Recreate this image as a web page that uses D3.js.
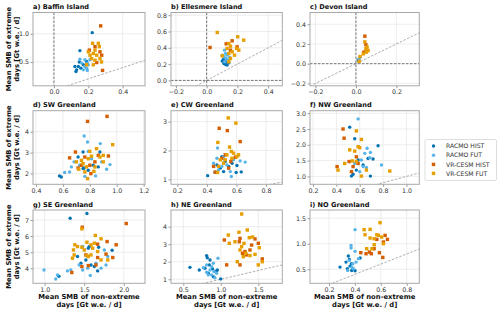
<!DOCTYPE html>
<html><head><meta charset="utf-8">
<script src="https://cdn.jsdelivr.net/npm/d3@7"></script>
<style>body{margin:0;background:#fff}svg{display:block;font-family:"DejaVu Sans",sans-serif}</style>
</head><body><svg id="c" width="500" height="313"></svg>
<script>
// ---------------- DATA ----------------
const seriesNames = ["RACMO HIST", "RACMO FUT", "VR-CESM HIST", "VR-CESM FUT"];
const seriesColors = ["#0173b2", "#56b4e9", "#d55e00", "#e69f00"];
const seriesShapes = ["circle", "circle", "square", "square"];

const baffinRH = [[0.223,1.02],[0.151,0.70],[0.122,0.42],[0.142,0.42],[0.132,0.36],[0.157,0.39],[0.171,0.45],[0.19,0.51],[0.128,0.33],[0.148,0.50]];
const baffinRF = [[0.151,0.55],[0.18,0.54],[0.194,0.48],[0.171,0.36],[0.19,0.39],[0.20,0.45],[0.161,0.48],[0.18,0.42],[0.194,0.35],[0.21,0.54]];
const baffinVH = [[0.272,1.14],[0.206,0.71],[0.278,0.62],[0.249,0.49],[0.283,0.35],[0.239,0.77],[0.268,0.68]];
const baffinVF = [[0.225,0.83],[0.258,0.83],[0.239,0.71],[0.21,0.62],[0.229,0.65],[0.249,0.62],[0.268,0.56],[0.219,0.56],[0.264,0.77],[0.239,0.53],[0.277,0.50],[0.19,0.45],[0.229,0.45],[0.20,0.68]];

const ellesRH = [[0.101,0.237],[0.112,0.208],[0.123,0.196],[0.133,0.188],[0.108,0.257],[0.144,0.216],[0.123,0.229]];
const ellesRF = [[0.116,0.371],[0.123,0.33],[0.112,0.29],[0.127,0.269],[0.133,0.31],[0.101,0.31],[0.138,0.249],[0.118,0.229],[0.15,0.282]];
const ellesVH = [[0.022,0.404],[0.127,0.449],[0.166,0.486],[0.155,0.371],[0.198,0.412]];
const ellesVF = [[0.069,0.588],[0.202,0.535],[0.241,0.494],[0.144,0.453],[0.155,0.42],[0.194,0.392],[0.209,0.371],[0.166,0.351],[0.144,0.33],[0.181,0.31],[0.101,0.302],[0.144,0.229],[0.155,0.269],[0.133,0.392]];

const devonRH = [[0.011,0.038]];
const devonRF = [[0.016,0.048],[0.02,0.066]];
const devonVH = [[0.044,0.279],[0.049,0.193],[0.039,0.117],[0.052,0.134]];
const devonVF = [[0.044,0.221],[0.055,0.169],[0.06,0.134],[0.049,0.152],[0.036,0.10],[0.02,0.072],[0.016,0.024],[0.052,0.117]];

const swRH = [[0.575,1.89],[0.588,1.84],[0.75,3.03],[0.758,2.27],[0.75,2.24],[0.875,3.03],[0.788,2.16],[0.863,2.32],[0.713,2.79],[0.825,2.40]];
const swRF = [[0.758,3.79],[0.783,3.51],[0.878,3.43],[0.613,2.05],[0.663,2.32],[0.683,2.56],[0.763,1.87],[0.843,1.89],[0.95,2.43],[0.925,2.21],[0.788,3.06],[0.725,2.40],[0.888,2.56],[0.813,2.71],[0.65,2.08]];
const swVH = [[0.783,4.49],[0.928,4.73],[0.65,2.75],[0.693,3.03],[0.713,2.27],[0.808,2.00],[0.938,2.84],[0.838,2.56],[0.763,2.79],[0.738,2.40],[0.863,2.87],[0.80,2.40]];
const swVF = [[0.97,3.38],[0.783,1.76],[0.85,3.19],[0.80,3.06],[0.813,2.83],[0.875,2.79],[0.90,2.87],[0.738,2.63],[0.718,2.21],[0.775,2.32],[0.75,2.48],[0.838,2.32],[0.788,2.71],[0.90,2.56],[0.763,2.08],[0.83,2.11],[0.70,2.56]];

const cwRH = [[0.405,1.13],[0.456,1.25],[0.513,1.27],[0.598,1.24],[0.632,1.26],[0.603,1.48],[0.468,1.50],[0.524,1.62],[0.501,1.79],[0.49,1.39],[0.547,1.45],[0.57,1.56]];
const cwRF = [[0.472,2.09],[0.565,1.10],[0.659,1.60],[0.625,1.64],[0.468,1.73],[0.513,1.79],[0.535,1.50],[0.58,1.68],[0.479,1.33],[0.501,1.45],[0.445,1.56],[0.558,1.27]];
const cwVH = [[0.483,2.77],[0.538,2.69],[0.625,2.31],[0.445,1.45],[0.456,1.25],[0.592,1.77],[0.501,1.73],[0.562,1.62],[0.524,1.85],[0.547,1.39]];
const cwVF = [[0.544,3.13],[0.596,2.95],[0.474,2.28],[0.553,2.12],[0.565,1.97],[0.58,1.91],[0.603,1.79],[0.535,1.85],[0.49,1.68],[0.513,1.56],[0.479,1.45],[0.472,1.24],[0.524,1.68],[0.614,1.85],[0.569,1.73]];

const nwRH = [[0.514,2.56],[0.557,2.19],[0.757,1.97],[0.714,1.55],[0.529,1.01],[0.691,1.01],[0.543,1.07],[0.586,1.52],[0.671,1.57],[0.629,1.36],[0.571,1.20]];
const nwRF = [[0.586,2.82],[0.786,1.36],[0.663,1.89],[0.691,1.76],[0.643,1.73],[0.686,1.59],[0.629,1.31],[0.657,1.28],[0.60,1.15],[0.557,1.41],[0.614,1.52]];
const nwVH = [[0.457,2.50],[0.466,2.21],[0.406,1.31],[0.509,1.47],[0.529,1.15],[0.571,1.62],[0.543,1.31],[0.586,1.41]];
const nwVF = [[0.571,2.44],[0.614,2.17],[0.514,1.84],[0.586,1.94],[0.60,1.91],[0.557,1.80],[0.471,1.41],[0.414,1.20],[0.857,1.17],[0.657,1.20],[0.614,1.01],[0.571,1.47],[0.537,1.49]];

const seRH = [[1.322,7.11],[1.534,7.40],[1.18,3.51],[1.415,4.73],[1.458,4.32],[1.551,5.25],[1.682,5.31],[1.852,5.12],[1.669,3.84],[1.585,4.21],[1.521,4.52],[1.627,4.11],[1.564,5.35]];
const seRF = [[0.992,3.90],[1.14,3.34],[1.161,3.59],[1.288,3.84],[1.331,3.90],[1.479,3.90],[1.576,3.55],[1.712,4.01],[1.775,4.21],[1.797,4.73],[1.754,5.14],[1.479,5.35],[1.648,4.32],[1.543,4.01],[1.436,4.21]];
const seVH = [[1.475,6.55],[2.03,6.78],[1.343,3.74],[1.903,5.46],[1.788,5.66],[1.86,4.67],[1.775,4.88],[1.669,4.67],[1.521,4.83],[1.669,5.50],[1.47,4.11],[1.648,4.21],[1.551,4.17]];
const seVF = [[1.47,6.45],[1.64,6.04],[1.712,5.83],[1.364,5.14],[1.381,5.46],[1.373,4.83],[1.352,4.63],[1.47,5.31],[1.534,5.62],[1.585,5.46],[1.627,5.56],[1.534,4.79],[1.585,4.83],[1.669,5.04],[1.712,4.52],[1.797,4.52],[1.606,5.25],[1.50,5.14],[1.551,4.73],[1.415,5.35]];

const neRH = [[0.589,1.68],[0.713,1.53],[0.811,2.35],[0.82,2.23],[0.856,2.10],[0.789,1.63],[0.847,1.82],[0.891,1.59],[0.944,1.47],[0.998,1.02],[0.953,1.53],[0.90,1.15],[0.833,1.34]];
const neRF = [[0.962,2.20],[0.767,1.66],[0.811,1.40],[0.878,1.25],[0.90,1.91],[0.856,1.53],[0.922,1.09],[0.944,1.34],[0.811,1.82],[0.878,1.72],[0.833,1.25],[0.909,1.44]];
const neVH = [[1.047,3.24],[1.078,1.82],[1.256,3.33],[1.256,1.82],[1.456,3.30],[1.50,3.05],[1.553,2.16],[1.389,2.67],[1.411,2.95],[1.322,2.58],[1.289,2.48],[1.247,3.14],[1.344,2.39]];
const neVF = [[1.278,4.72],[1.353,3.81],[1.242,3.68],[1.10,3.52],[1.113,3.05],[1.189,3.14],[1.309,3.05],[1.38,3.37],[1.424,3.41],[1.278,2.86],[1.256,2.67],[1.333,2.48],[1.389,2.35],[1.456,2.42],[1.513,2.80],[1.50,1.82],[1.553,2.00],[1.22,2.00],[1.30,2.29]];

const noRH = [[0.285,0.542],[0.349,0.758],[0.357,0.693],[0.373,0.608],[0.342,0.51],[0.375,0.477],[0.401,0.47],[0.44,0.719],[0.331,0.64],[0.362,0.562]];
const noRF = [[0.401,1.275],[0.37,0.967],[0.37,0.915],[0.401,0.85],[0.427,0.706],[0.357,0.673],[0.383,0.608],[0.375,0.542],[0.344,0.477],[0.388,0.51],[0.409,0.64]];
const noVH = [[0.445,0.824],[0.486,0.804],[0.512,0.837],[0.548,0.902],[0.589,0.824],[0.615,0.732],[0.62,1.033],[0.651,1.085],[0.633,1.163],[0.569,1.085],[0.527,0.804]];
const noVF = [[0.471,1.275],[0.517,1.281],[0.594,1.412],[0.478,1.176],[0.517,1.111],[0.548,1.098],[0.581,1.163],[0.607,1.131],[0.491,0.902],[0.531,0.902],[0.549,0.98],[0.62,1.0],[0.569,1.176]];

const titles = ["a) Baffin Island","b) Ellesmere Island","c) Devon Island","d) SW Greenland","e) CW Greenland","f) NW Greenland","g) SE Greenland","h) NE Greenland","i) NO Greenland"];
const xDomains = [[-0.122,0.53],[-0.232,0.492],[-0.227,0.313],[0.378,1.21],[0.157,0.91],[0.174,1.11],[0.853,2.267],[0.336,1.82],[0.053,0.897]];
const yDomains = [[0.077,1.377],[-0.066,0.833],[-0.224,0.519],[1.49,5.0],[0.83,3.38],[0.75,3.08],[3.07,7.62],[0.77,4.95],[0.225,1.66]];
const xTickVals = [[0,0.2,0.4],[-0.2,0,0.2,0.4],[-0.2,0,0.2],[0.4,0.6,0.8,1.0,1.2],[0.2,0.4,0.6,0.8],[0.2,0.4,0.6,0.8,1.0],[1.0,1.5,2.0],[0.5,1.0,1.5],[0.2,0.4,0.6,0.8]];
const yTickVals = [[0.5,1.0],[0,0.2,0.4,0.6,0.8],[-0.2,0,0.2,0.4],[2,3,4],[1,2,3],[1.0,1.5,2.0,2.5,3.0],[4,5,6,7],[1,2,3,4],[0.5,1.0,1.5]];
const yTickFormats = [".1f",".1f",".1f","d","d",".1f","d","d",".1f"];
const panelSeries = [
  [baffinRH,baffinRF,baffinVH,baffinVF],[ellesRH,ellesRF,ellesVH,ellesVF],[devonRH,devonRF,devonVH,devonVF],
  [swRH,swRF,swVH,swVF],[cwRH,cwRF,cwVH,cwVF],[nwRH,nwRF,nwVH,nwVF],
  [seRH,seRF,seVH,seVF],[neRH,neRF,neVH,neVF],[noRH,noRF,noVH,noVF]];
const yLabelLines = ["Mean SMB of extreme","days [Gt w.e. / d]"];
const xLabelLines = ["Mean SMB of non-extreme","days [Gt w.e. / d]"];

// ---------------- LAYOUT ----------------
const cols = [[33,145],[171,282.3],[310,419.3]];
const rows = [[12.5,85.8],[110.7,184.3],[210,283.3]];
const svg = d3.select("#c");
const defs = svg.append("defs");

panelSeries.forEach((series, i) => {
  const c = cols[i % 3], r = rows[Math.floor(i / 3)];
  const x = d3.scaleLinear().domain(xDomains[i]).range(c);
  const y = d3.scaleLinear().domain(yDomains[i]).range([r[1], r[0]]);
  const g = svg.append("g");
  const cid = "clip" + i;
  defs.append("clipPath").attr("id", cid).append("rect")
    .attr("x", c[0]).attr("y", r[0]).attr("width", c[1]-c[0]).attr("height", r[1]-r[0]);

  // grid
  g.append("g").selectAll("line").data(xTickVals[i]).join("line")
    .attr("x1", d => x(d)).attr("x2", d => x(d)).attr("y1", r[0]).attr("y2", r[1])
    .attr("stroke", "#e8e8e8").attr("stroke-width", 0.8);
  g.append("g").selectAll("line").data(yTickVals[i]).join("line")
    .attr("y1", d => y(d)).attr("y2", d => y(d)).attr("x1", c[0]).attr("x2", c[1])
    .attr("stroke", "#e8e8e8").attr("stroke-width", 0.8);

  // axes
  const xa = g.append("g").attr("transform", `translate(0,${r[1]})`)
    .call(d3.axisBottom(x).tickValues(xTickVals[i]).tickFormat(d3.format(".1f")).tickSize(2.5).tickPadding(1.5));
  const ya = g.append("g").attr("transform", `translate(${c[0]},0)`)
    .call(d3.axisLeft(y).tickValues(yTickVals[i]).tickFormat(d3.format(yTickFormats[i])).tickSize(2.5).tickPadding(1.5));
  [xa, ya].forEach(a => {
    a.select(".domain").remove();
    a.selectAll("line").attr("stroke", "#555").attr("stroke-width", 0.6);
    a.selectAll("text").attr("font-size", 6.3).attr("fill", "#333").attr("font-family", "DejaVu Sans");
  });

  const inner = g.append("g").attr("clip-path", `url(#${cid})`);
  // 1:1 line
  const lo = Math.min(xDomains[i][0], yDomains[i][0]), hi = Math.max(xDomains[i][1], yDomains[i][1]);
  inner.append("line").attr("x1", x(lo)).attr("y1", y(lo)).attr("x2", x(hi)).attr("y2", y(hi))
    .attr("stroke", "#999").attr("stroke-width", 0.8).attr("stroke-dasharray", "2.5,1.5");
  // zero lines
  if (xDomains[i][0] < 0 && xDomains[i][1] > 0)
    inner.append("line").attr("x1", x(0)).attr("x2", x(0)).attr("y1", r[0]).attr("y2", r[1])
      .attr("stroke", "#555").attr("stroke-width", 0.8).attr("stroke-dasharray", "2.5,1.5");
  if (yDomains[i][0] < 0 && yDomains[i][1] > 0)
    inner.append("line").attr("y1", y(0)).attr("y2", y(0)).attr("x1", c[0]).attr("x2", c[1])
      .attr("stroke", "#555").attr("stroke-width", 0.8).attr("stroke-dasharray", "2.5,1.5");

  // points
  series.forEach((pts, s) => {
    const sg = inner.append("g").attr("fill", seriesColors[s]);
    if (seriesShapes[s] === "circle") {
      sg.selectAll("circle").data(pts).join("circle")
        .attr("cx", d => x(d[0])).attr("cy", d => y(d[1])).attr("r", 1.7);
    } else {
      const sz = 3.4;
      sg.selectAll("rect").data(pts).join("rect")
        .attr("x", d => x(d[0]) - sz/2).attr("y", d => y(d[1]) - sz/2).attr("width", sz).attr("height", sz);
    }
  });

  // frame
  g.append("rect").attr("x", c[0]).attr("y", r[0]).attr("width", c[1]-c[0]).attr("height", r[1]-r[0])
    .attr("fill", "none").attr("stroke", "#a8a8a8").attr("stroke-width", 1);

  // title
  g.append("text").attr("x", c[0]).attr("y", r[0] - 3.5).text(titles[i])
    .attr("font-size", 6.6).attr("font-weight", "bold").attr("fill", "#111");
});

// y labels for each row
rows.forEach(r => {
  const cy = (r[0] + r[1]) / 2;
  const t = svg.append("text").attr("transform", `translate(11,${cy}) rotate(-90)`)
    .attr("text-anchor", "middle").attr("font-size", 6.8).attr("font-weight", "bold").attr("fill", "#111");
  t.append("tspan").attr("x", 0).attr("y", 0).text(yLabelLines[0]);
  t.append("tspan").attr("x", 0).attr("y", 8.3).text(yLabelLines[1]);
});
// x labels for bottom row
cols.forEach(c => {
  const cx = (c[0] + c[1]) / 2;
  const t = svg.append("text").attr("text-anchor", "middle").attr("font-size", 6.8)
    .attr("font-weight", "bold").attr("fill", "#111");
  t.append("tspan").attr("x", cx).attr("y", 298.5).text(xLabelLines[0]);
  t.append("tspan").attr("x", cx).attr("y", 306.8).text(xLabelLines[1]);
});

// legend
const lg = svg.append("g");
lg.append("rect").attr("x", 425).attr("y", 139.5).attr("width", 71.5).attr("height", 41).attr("rx", 1.5)
  .attr("fill", "#fff").attr("stroke", "#d0d0d0").attr("stroke-width", 0.7);
const ly = [146, 155.2, 164.4, 173.4];
seriesNames.forEach((n, s) => {
  if (seriesShapes[s] === "circle")
    lg.append("circle").attr("cx", 433.5).attr("cy", ly[s]).attr("r", 1.7).attr("fill", seriesColors[s]);
  else
    lg.append("rect").attr("x", 433.5 - 1.7).attr("y", ly[s] - 1.7).attr("width", 3.4).attr("height", 3.4).attr("fill", seriesColors[s]);
  lg.append("text").attr("x", 446).attr("y", ly[s] + 2.2).text(n)
    .attr("font-size", 6.1).attr("fill", "#333");
});
</script></body></html>
